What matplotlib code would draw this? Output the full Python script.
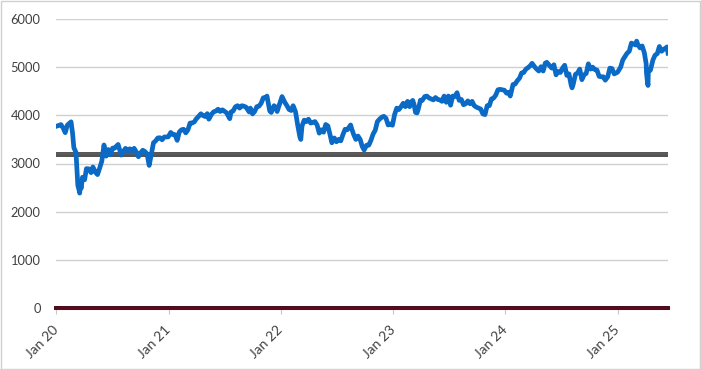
import matplotlib
matplotlib.use("Agg")
import matplotlib.pyplot as plt
import matplotlib.dates as mdates
import matplotlib.patheffects as pe
from matplotlib.patches import Rectangle
import pandas as pd

dates_2020 = ["2020-01-02","2020-01-10","2020-01-17","2020-01-24","2020-01-31","2020-02-07","2020-02-19",
              "2020-02-24","2020-02-28","2020-03-06","2020-03-12","2020-03-16","2020-03-18","2020-03-20",
              "2020-03-23","2020-03-27","2020-04-03","2020-04-09","2020-04-17","2020-04-24","2020-04-30",
              "2020-05-08","2020-05-15","2020-05-22","2020-05-29","2020-06-05","2020-06-12","2020-06-19",
              "2020-06-26","2020-07-03","2020-07-10","2020-07-17","2020-07-21","2020-07-31","2020-08-07",
              "2020-08-14","2020-08-21","2020-08-28","2020-09-04","2020-09-11","2020-09-18","2020-09-25",
              "2020-10-02","2020-10-09","2020-10-16","2020-10-23","2020-10-30","2020-11-06","2020-11-13",
              "2020-11-20","2020-11-27","2020-12-04","2020-12-11","2020-12-18","2020-12-31"]
values_2020 = [3773,3790,3808,3740,3640,3798,3865,
               3620,3329,3232,2545,2450,2385,2548,
               2485,2715,2662,2893,2888,2810,2928,
               2820,2770,2905,3050,3384,3153,3290,
               3180,3320,3320,3370,3395,3174,3252,
               3315,3265,3305,3260,3315,3240,3140,
               3220,3275,3250,3200,2960,3200,3430,
               3470,3530,3535,3492,3550,3553]

dates_2021 = ["2021-01-08","2021-01-15","2021-01-22","2021-01-29","2021-02-05","2021-02-12","2021-02-19",
              "2021-02-26","2021-03-05","2021-03-12","2021-03-19","2021-03-26","2021-04-01","2021-04-09",
              "2021-04-16","2021-04-23","2021-04-30","2021-05-07","2021-05-12","2021-05-21","2021-05-28",
              "2021-06-04","2021-06-11","2021-06-18","2021-06-25","2021-07-02","2021-07-09","2021-07-19",
              "2021-07-23","2021-07-30","2021-08-06","2021-08-13","2021-08-20","2021-08-27","2021-09-03",
              "2021-09-10","2021-09-20","2021-09-24","2021-10-01","2021-10-08","2021-10-15","2021-10-22",
              "2021-10-29","2021-11-05","2021-11-12","2021-11-17","2021-11-26","2021-12-01","2021-12-10",
              "2021-12-17","2021-12-20","2021-12-31"]
values_2021 = [3645,3600,3600,3480,3655,3700,3710,
               3636,3700,3840,3840,3867,3926,3980,
               4032,3995,3975,4035,3920,4025,4075,
               4090,4127,4080,4115,4084,4050,3930,
               4070,4090,4175,4200,4150,4200,4190,
               4170,4070,4150,4030,4080,4180,4190,
               4250,4365,4365,4400,4090,4060,4200,
               4160,4080,4298]

dates_2022 = ["2022-01-05","2022-01-14","2022-01-21","2022-01-28","2022-02-04","2022-02-10","2022-02-18",
              "2022-02-24","2022-03-04","2022-03-07","2022-03-11","2022-03-18","2022-03-25","2022-04-01",
              "2022-04-08","2022-04-14","2022-04-22","2022-04-29","2022-05-06","2022-05-13","2022-05-20",
              "2022-05-27","2022-06-03","2022-06-10","2022-06-16","2022-06-24","2022-07-01","2022-07-08",
              "2022-07-15","2022-07-22","2022-07-29","2022-08-05","2022-08-16","2022-08-19","2022-08-26",
              "2022-09-02","2022-09-09","2022-09-16","2022-09-23","2022-09-29","2022-10-07","2022-10-14",
              "2022-10-21","2022-10-28","2022-11-04","2022-11-11","2022-11-18","2022-11-25","2022-12-02",
              "2022-12-09","2022-12-16","2022-12-23","2022-12-30"]
values_2022 = [4390,4270,4200,4120,4100,4200,4070,
               3830,3550,3500,3780,3900,3870,3920,
               3840,3850,3870,3800,3630,3700,3650,
               3810,3780,3600,3430,3530,3450,3500,
               3470,3600,3710,3700,3800,3730,3600,
               3500,3570,3500,3350,3280,3380,3380,
               3480,3610,3690,3870,3920,3960,3980,
               3940,3800,3820,3794]

dates_2023 = ["2023-01-06","2023-01-13","2023-01-20","2023-01-27","2023-02-03","2023-02-10","2023-02-17",
              "2023-02-24","2023-03-03","2023-03-06","2023-03-10","2023-03-15","2023-03-20","2023-03-24",
              "2023-03-31","2023-04-06","2023-04-14","2023-04-21","2023-04-28","2023-05-05","2023-05-12",
              "2023-05-19","2023-05-26","2023-06-02","2023-06-09","2023-06-16","2023-06-23","2023-06-30",
              "2023-07-07","2023-07-14","2023-07-21","2023-07-28","2023-08-04","2023-08-11","2023-08-18",
              "2023-08-25","2023-09-01","2023-09-08","2023-09-15","2023-09-22","2023-09-29","2023-10-06",
              "2023-10-13","2023-10-20","2023-10-27","2023-11-03","2023-11-10","2023-11-17","2023-11-24",
              "2023-12-01","2023-12-08","2023-12-15","2023-12-22","2023-12-29"]
values_2023 = [4017,4150,4120,4180,4250,4180,4290,
               4180,4290,4310,4230,4060,4050,4130,
               4315,4310,4390,4400,4360,4340,4320,
               4370,4330,4320,4290,4400,4270,4400,
               4210,4400,4390,4470,4310,4330,4220,
               4240,4300,4240,4290,4200,4170,4150,
               4130,4030,4015,4200,4200,4340,4360,
               4420,4530,4540,4530,4520]

dates_2024 = ["2024-01-05","2024-01-12","2024-01-17","2024-01-19","2024-01-26","2024-02-02","2024-02-09",
              "2024-02-16","2024-02-23","2024-03-01","2024-03-08","2024-03-15","2024-03-22","2024-03-28",
              "2024-04-05","2024-04-12","2024-04-19","2024-04-26","2024-05-03","2024-05-10","2024-05-15",
              "2024-05-24","2024-05-31","2024-06-07","2024-06-14","2024-06-21","2024-06-28","2024-07-05",
              "2024-07-12","2024-07-19","2024-07-26","2024-08-02","2024-08-05","2024-08-09","2024-08-16",
              "2024-08-23","2024-08-30","2024-09-06","2024-09-13","2024-09-20","2024-09-27","2024-10-04",
              "2024-10-11","2024-10-18","2024-10-25","2024-11-01","2024-11-08","2024-11-15","2024-11-21",
              "2024-11-29","2024-12-06","2024-12-13","2024-12-20","2024-12-31"]
values_2024 = [4460,4480,4400,4450,4640,4650,4720,
               4770,4880,4890,4960,4990,5030,5080,
               5010,4960,4920,5010,4920,5085,5100,
               5030,4980,5050,4840,4910,4890,4980,
               5040,4830,4860,4630,4570,4650,4850,
               4880,4960,4740,4840,4870,5070,4960,
               5000,4950,4940,4810,4800,4800,4730,
               4800,4980,4970,4860,4895]

dates_2025 = ["2025-01-10","2025-01-17","2025-01-24","2025-01-31","2025-02-07","2025-02-14","2025-02-21",
              "2025-02-28","2025-03-03","2025-03-07","2025-03-14","2025-03-21","2025-03-28","2025-04-03",
              "2025-04-04","2025-04-07","2025-04-09","2025-04-10","2025-04-17","2025-04-25","2025-05-02",
              "2025-05-09","2025-05-16","2025-05-23","2025-05-30","2025-06-06","2025-06-10","2025-06-13"]
values_2025 = [5000,5150,5220,5290,5330,5500,5480,
               5460,5540,5470,5400,5440,5300,5070,
               4880,4700,4620,4900,4940,5150,5250,
               5280,5430,5330,5370,5400,5420,5290]

reference_level = 3200
y_ticks = [0, 1000, 2000, 3000, 4000, 5000, 6000]
x_tick_dates = ["2020-01-01","2021-01-01","2022-01-01","2023-01-01","2024-01-01","2025-01-01"]
x_tick_labels = ["Jan 20","Jan 21","Jan 22","Jan 23","Jan 24","Jan 25"]

dates = pd.to_datetime(dates_2020 + dates_2021 + dates_2022 + dates_2023 + dates_2024 + dates_2025)
values = values_2020 + values_2021 + values_2022 + values_2023 + values_2024 + values_2025

plt.rcParams['font.family'] = ['Lato', 'DejaVu Sans']

fig = plt.figure(figsize=(7.01, 3.69), dpi=100)
ax = fig.add_axes([56/701, 61/369, 612/701, 289/369])

ax.plot(dates, values, color='#0A6AC6', lw=3.4, solid_joinstyle='round', zorder=4)
ax.axhline(reference_level, color='#5A5A5A', lw=2.6, zorder=3,
           path_effects=[pe.Stroke(linewidth=3.4, foreground='#3A3A3A'), pe.Normal()])
ax.axhline(0, color='#5C0A1A', lw=2.2, zorder=3, clip_on=False,
           path_effects=[pe.Stroke(linewidth=2.8, foreground='#3A0010'), pe.Normal()])

ax.set_ylim(0, 6000)
ax.set_xlim(pd.Timestamp(x_tick_dates[0]), dates[-1])
ax.set_yticks(y_ticks)
ax.set_yticklabels([str(v) for v in y_ticks])
ax.set_xticks(pd.to_datetime(x_tick_dates))
ax.set_xticklabels(x_tick_labels, rotation=45, ha='right', va='center', rotation_mode='anchor')

ax.grid(axis='y', color='#D0D0D0', lw=1.0, zorder=0)
ax.set_axisbelow(True)
for s in ax.spines.values():
    s.set_visible(False)
ax.tick_params(axis='y', length=0, pad=11, labelsize=9.3, labelcolor='#404040')
ax.tick_params(axis='x', length=4, color='#C8C8C8', width=0.8, pad=10, labelsize=10, labelcolor='#404040')

fig.patches.append(Rectangle((0.5/701, 0.5/369), 699.5/701, 367.5/369, transform=fig.transFigure,
                             fill=False, edgecolor='#D0D0D0', lw=1.0))

fig.savefig("out.png", dpi=100)
